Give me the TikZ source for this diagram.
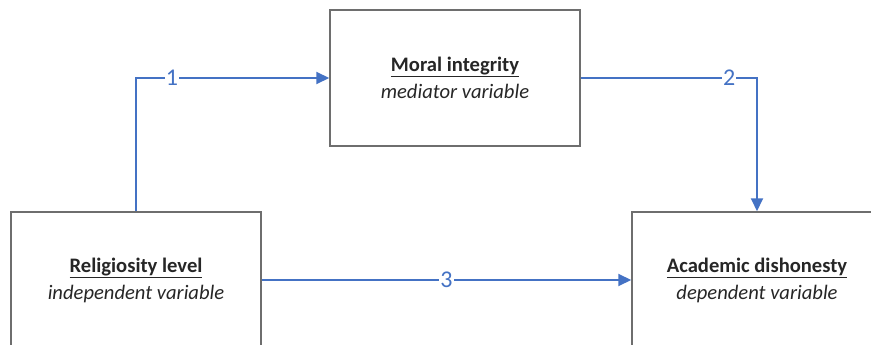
\documentclass[tikz,border=0pt]{standalone}
\usepackage{fontspec}
\setmainfont{Carlito}
\usetikzlibrary{arrows.meta}
\definecolor{flow}{HTML}{4472C4}
\definecolor{frame}{HTML}{6E6E6E}
\tikzset{
  varbox/.style={draw=frame, line width=1.5pt, minimum width=250pt, minimum height=136pt,
    align=center, inner sep=0pt, font=\fontsize{20.6}{27}\selectfont, text=black!85},
  flowline/.style={draw=flow, line width=2pt, -{Triangle[length=13pt,width=12pt]}},
  numlabel/.style={fill=white, text=flow, inner sep=1pt, font=\fontsize{24}{24}\selectfont}
}
\begin{document}
\begin{tikzpicture}[x=1pt,y=-1pt]
\useasboundingbox (0,0) rectangle (871,345);
\clip (0,0) rectangle (871,345);
\node[varbox] (moral) at (455,78) {\textbf{\underline{Moral integrity}}\\\textit{mediator variable}};
\node[varbox] (rel) at (136,280) {\textbf{\underline{Religiosity level}}\\\textit{independent variable}};
\node[varbox] (acad) at (757,280) {\textbf{\underline{Academic dishonesty}}\\\textit{dependent variable}};
\draw[flowline] (rel.north) |- node[numlabel, pos=0.593] {1} (moral.west);
\draw[flowline] (moral.east) -| node[numlabel, pos=0.421] {2} (acad.north);
\draw[flowline] (rel.east) -- node[numlabel, pos=0.5] {3} (acad.west);
\end{tikzpicture}
\end{document}
